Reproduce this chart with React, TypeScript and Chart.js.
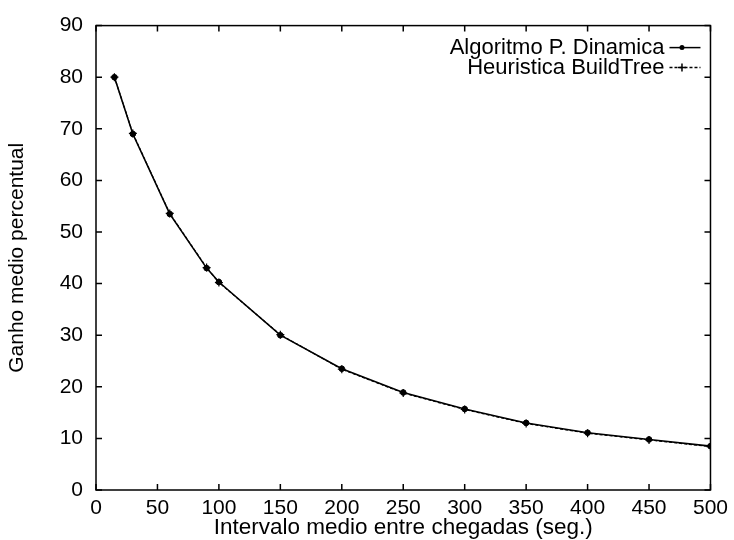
import React, { useEffect, useRef } from "react";
import { Chart, registerables } from "chart.js";

Chart.register(...registerables);

const xValues = [15, 30, 60, 90, 100, 150, 200, 250, 300, 350, 400, 450, 500];
const algoritmoPD = [80, 69, 53.5, 43, 40.3, 30, 23.5, 18.9, 15.7, 13, 11.1, 9.8, 8.5];
const heuristicaBT = [80, 69.1, 53.6, 43.1, 40.2, 30.1, 23.4, 18.8, 15.6, 12.9, 11, 9.7, 8.4];
const seriesNames = ["Algoritmo P. Dinamica", "Heuristica BuildTree"];
const xTicks = [0, 50, 100, 150, 200, 250, 300, 350, 400, 450, 500];
const yTicks = [0, 10, 20, 30, 40, 50, 60, 70, 80, 90];
const xTitle = "Intervalo medio entre chegadas (seg.)";
const yTitle = "Ganho medio percentual";

const FONT = "'Liberation Sans', Arial, Helvetica, sans-serif";

const framePlugin = {
  id: "frameTicks",
  afterDatasetsDraw(chart: any) {
    const { ctx, chartArea, scales } = chart;
    const { left, right, top, bottom } = chartArea;
    ctx.save();
    ctx.strokeStyle = "#000";
    ctx.lineWidth = 1.5;
    ctx.strokeRect(left, top, right - left, bottom - top);
    const tl = 6;
    ctx.beginPath();
    for (const v of xTicks) {
      const px = scales.x.getPixelForValue(v);
      ctx.moveTo(px, bottom);
      ctx.lineTo(px, bottom - tl);
      ctx.moveTo(px, top);
      ctx.lineTo(px, top + tl);
    }
    for (const v of yTicks) {
      const py = scales.y.getPixelForValue(v);
      ctx.moveTo(left, py);
      ctx.lineTo(left + tl, py);
      ctx.moveTo(right, py);
      ctx.lineTo(right - tl, py);
    }
    ctx.stroke();

    // legend (gnuplot style: text then sample)
    ctx.font = `22px ${FONT}`;
    ctx.fillStyle = "#000";
    ctx.textAlign = "right";
    ctx.textBaseline = "middle";
    const textRight = right - 46;
    const lineStart = right - 41;
    const lineEnd = right - 10;
    chart.data.datasets.forEach((ds: any, i: number) => {
      const y = top + 22 + i * 20;
      ctx.fillText(ds.label, textRight, y);
      ctx.beginPath();
      ctx.lineWidth = 1.5;
      ctx.setLineDash(ds.borderDash || []);
      ctx.moveTo(lineStart, y);
      ctx.lineTo(lineEnd, y);
      ctx.stroke();
      ctx.setLineDash([]);
      const mx = (lineStart + lineEnd) / 2 - 3;
      if (i === 0) {
        ctx.beginPath();
        ctx.arc(mx, y, 2.5, 0, Math.PI * 2);
        ctx.fill();
      } else {
        ctx.beginPath();
        ctx.moveTo(mx - 4, y);
        ctx.lineTo(mx + 4, y);
        ctx.moveTo(mx, y - 4);
        ctx.lineTo(mx, y + 4);
        ctx.stroke();
      }
    });
    ctx.restore();
  },
};

export default function App() {
  const ref = useRef<HTMLCanvasElement | null>(null);
  useEffect(() => {
    document.body.style.margin = "0";
    const canvas = ref.current!;
    const chart = new Chart(canvas, {
      type: "line",
      data: {
        datasets: [
          {
            label: seriesNames[0],
            data: xValues.map((x, i) => ({ x, y: algoritmoPD[i] })),
            borderColor: "#000",
            backgroundColor: "#000",
            borderWidth: 1.6,
            pointStyle: "circle",
            pointRadius: 2.8,
            pointBorderWidth: 1,
            tension: 0,
          },
          {
            label: seriesNames[1],
            data: xValues.map((x, i) => ({ x, y: heuristicaBT[i] })),
            borderColor: "#000",
            backgroundColor: "#000",
            borderWidth: 1.2,
            borderDash: [3, 2],
            pointStyle: "cross",
            pointRadius: 4,
            pointBorderWidth: 1.2,
            tension: 0,
          },
        ],
      },
      options: {
        responsive: false,
        animation: false,
        layout: { padding: { left: 0, right: 21, top: 18, bottom: 0 } },
        plugins: { legend: { display: false }, tooltip: { enabled: false } },
        scales: {
          x: {
            type: "linear",
            min: 0,
            max: 500,
            afterBuildTicks: (s: any) => {
              s.ticks = xTicks.map((v) => ({ value: v }));
            },
            afterFit: (s: any) => {
              s.height = 50;
            },
            grid: { display: false, drawTicks: false },
            border: { display: false },
            ticks: {
              color: "#000",
              font: { family: FONT, size: 21 },
              padding: 6,
              maxRotation: 0,
              autoSkip: false,
            },
            title: {
              display: true,
              text: xTitle,
              color: "#000",
              font: { family: FONT, size: 22.5 },
              padding: { top: 0, bottom: -1 },
            },
          },
          y: {
            type: "linear",
            min: 0,
            max: 90,
            afterBuildTicks: (s: any) => {
              s.ticks = yTicks.map((v) => ({ value: v }));
            },
            afterFit: (s: any) => {
              s.width = 96;
            },
            grid: { display: false, drawTicks: false },
            border: { display: false },
            ticks: {
              color: "#000",
              font: { family: FONT, size: 21 },
              padding: 13,
              autoSkip: false,
            },
            title: {
              display: true,
              text: yTitle,
              color: "#000",
              font: { family: FONT, size: 21 },
              padding: { top: 5, bottom: 0 },
            },
          },
        },
      },
      plugins: [framePlugin],
    } as any);
    return () => chart.destroy();
  }, []);
  return <canvas ref={ref} width={734} height={540} style={{ display: "block" }} />;
}
